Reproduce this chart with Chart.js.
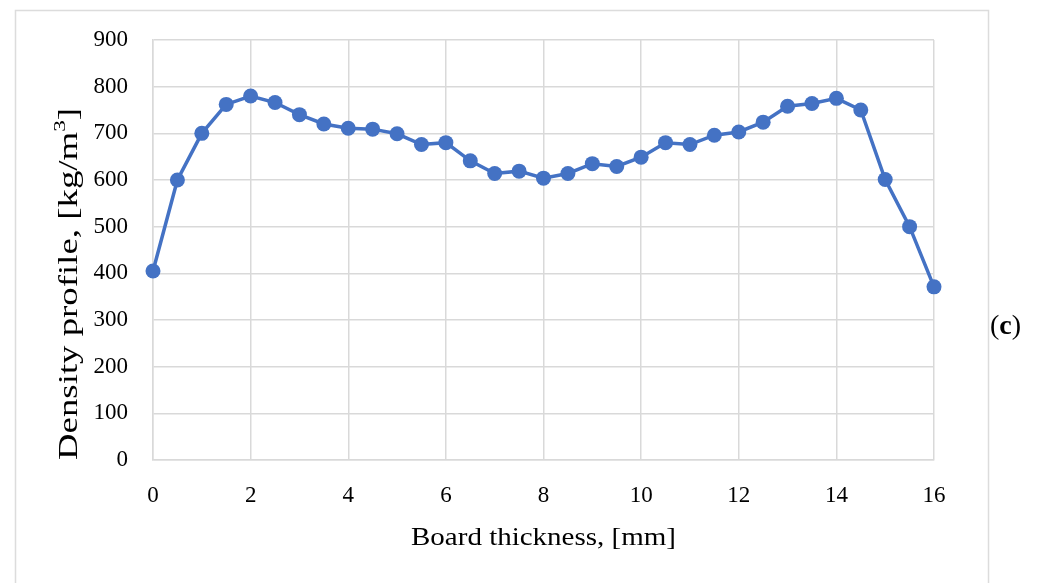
<!DOCTYPE html>
<html>
<head>
<meta charset="utf-8">
<style>
  html, body { margin: 0; padding: 0; background: #ffffff; }
  #wrap { position: relative; width: 1048px; height: 583px; }
  canvas { display: block; }
</style>
<script src="https://cdn.jsdelivr.net/npm/chart.js@4/dist/chart.umd.min.js"></script>
</head>
<body>
<div id="wrap"><canvas id="chart" width="1048" height="583"></canvas></div>
<script>
// Board thickness positions (mm) and measured density (kg/m³)
const thickness = [0, 0.5, 1, 1.5, 2, 2.5, 3, 3.5, 4, 4.5, 5, 5.5, 6, 6.5, 7, 7.5, 8,
                   8.5, 9, 9.5, 10, 10.5, 11, 11.5, 12, 12.5, 13, 13.5, 14, 14.5, 15, 15.5, 16];
const density = [405, 600, 700, 762, 780, 766, 740, 720, 711, 709, 699, 676, 680, 641, 614, 619, 604,
                 614, 635, 629, 649, 680, 676, 696, 703, 724, 758, 764, 775, 750, 601, 500, 371];
const xTicks = [0, 2, 4, 6, 8, 10, 12, 14, 16];
const yTicks = [0, 100, 200, 300, 400, 500, 600, 700, 800, 900];
const xTitle = 'Board thickness, [mm]';
const yTitleParts = ['Density profile, [kg/m', '3', ']'];
const panelLabel = 'c';

const FONT = '"Liberation Serif", "DejaVu Serif", serif';
const BLUE = '#4472C4';
const GRID = '#d9d9d9';

// Draws a run of [text, font, baselineShift] pieces, stretched to a given length
function drawRun(ctx, pieces, cx, cy, length) {
  let total = 0;
  const widths = pieces.map(([t, f]) => { ctx.font = f; const w = ctx.measureText(t).width; total += w; return w; });
  const k = length / total;
  ctx.save();
  ctx.translate(cx, cy);
  ctx.scale(k, 1);
  ctx.textBaseline = 'middle';
  ctx.textAlign = 'left';
  let x = -total / 2;
  pieces.forEach(([t, f, dy], i) => {
    ctx.font = f;
    ctx.fillText(t, x, dy || 0);
    x += widths[i];
  });
  ctx.restore();
}

// Light frame, axis titles and the "(c)" panel tag
const decorPlugin = {
  id: 'decor',
  beforeDraw(chart) {
    const ctx = chart.ctx;
    ctx.save();
    ctx.fillStyle = '#ffffff';
    ctx.fillRect(0, 0, chart.width, chart.height);
    ctx.strokeStyle = '#dcdcdc';
    ctx.lineWidth = 1.5;
    ctx.strokeRect(15.5, 10.5, 973, 600);
    ctx.restore();
  },
  afterDraw(chart) {
    const ctx = chart.ctx;
    const area = chart.chartArea;
    ctx.save();
    ctx.fillStyle = '#000000';

    // x-axis title
    drawRun(ctx, [[xTitle, '25px ' + FONT]], (area.left + area.right) / 2, 538, 265);

    // y-axis title, written bottom-to-top
    ctx.save();
    ctx.translate(70, 284);
    ctx.rotate(-Math.PI / 2);
    const big = '27px ' + FONT, small = '17px ' + FONT;
    drawRun(ctx, [[yTitleParts[0], big], [yTitleParts[1], small, -9], [yTitleParts[2], big]], 0, 0, 352);
    ctx.restore();

    // panel tag
    let px = 990;
    const py = 327;
    ctx.textBaseline = 'middle';
    ctx.textAlign = 'left';
    ctx.font = '28px ' + FONT;
    ctx.fillText('(', px, py);
    px += ctx.measureText('(').width;
    ctx.font = 'bold 28px ' + FONT;
    ctx.fillText(panelLabel, px, py);
    px += ctx.measureText(panelLabel).width;
    ctx.font = '28px ' + FONT;
    ctx.fillText(')', px, py);
    ctx.restore();
  }
};

new Chart(document.getElementById('chart'), {
  type: 'line',
  data: {
    datasets: [{
      data: thickness.map((t, i) => ({ x: t, y: density[i] })),
      borderColor: BLUE,
      backgroundColor: BLUE,
      borderWidth: 3.5,
      pointRadius: 7.5,
      pointHoverRadius: 7.5,
      pointBorderWidth: 0,
      tension: 0,
      fill: false,
      clip: false
    }]
  },
  options: {
    responsive: false,
    animation: false,
    events: [],
    layout: { padding: { left: 50, right: 114, top: 40, bottom: 20 } },
    plugins: { legend: { display: false }, tooltip: { enabled: false } },
    scales: {
      x: {
        type: 'linear',
        min: 0, max: 16,
        afterBuildTicks(scale) { scale.ticks = xTicks.map(v => ({ value: v })); },
        afterFit(scale) { scale.height = 583 - 460 - 20; },
        grid: { color: GRID, lineWidth: 1.5, drawTicks: false },
        border: { color: GRID, width: 1.5 },
        ticks: { color: '#000', padding: 22, font: { family: FONT, size: 23 } },
        title: { display: false }
      },
      y: {
        type: 'linear',
        min: 0, max: 900,
        afterBuildTicks(scale) { scale.ticks = yTicks.map(v => ({ value: v })); },
        afterFit(scale) { scale.width = 153 - 50; },
        grid: { color: GRID, lineWidth: 1.5, drawTicks: false },
        border: { color: GRID, width: 1.5 },
        ticks: { color: '#000', padding: 25, font: { family: FONT, size: 23 } },
        title: { display: false }
      }
    }
  },
  plugins: [decorPlugin]
});
</script>
</body>
</html>
